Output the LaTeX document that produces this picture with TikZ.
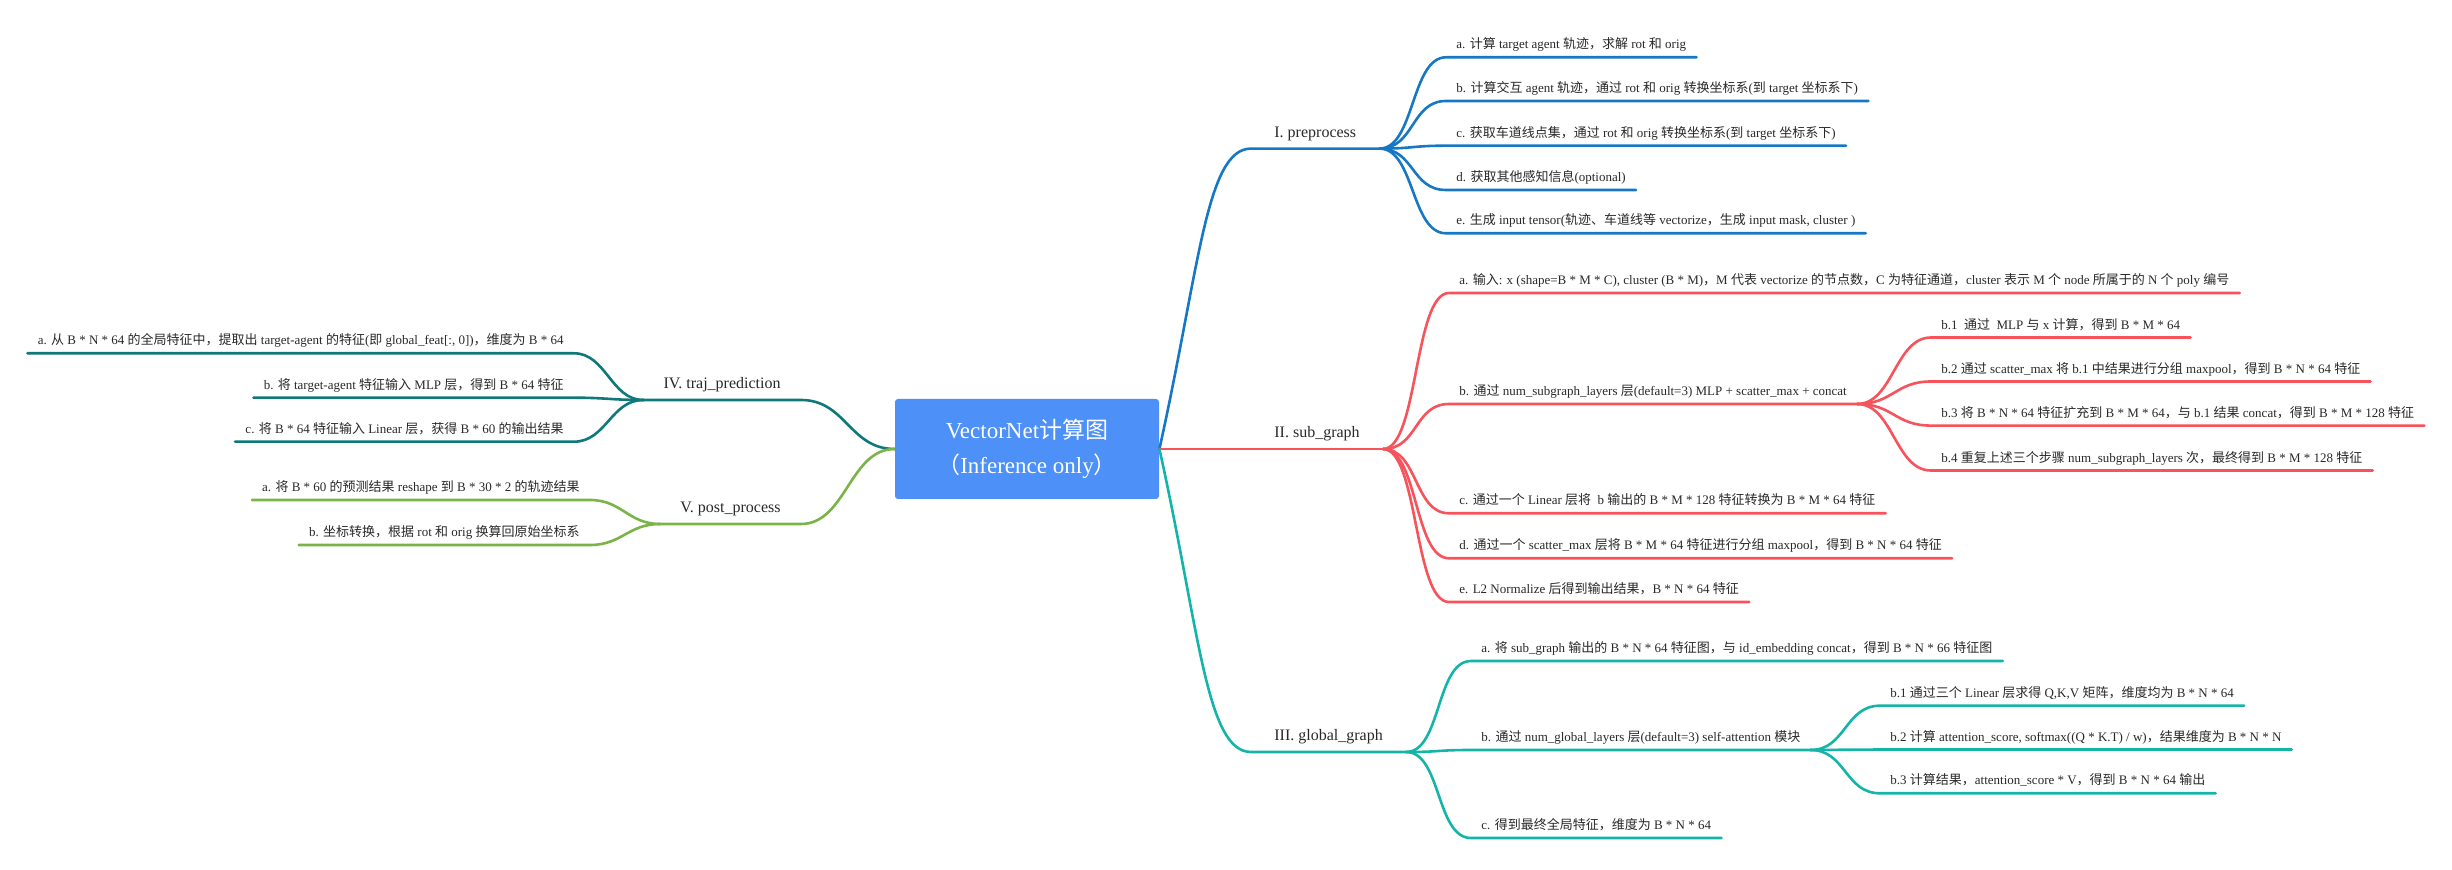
\documentclass[tikz,border=0pt]{standalone}
\usepackage{fontspec}
\setmainfont{Liberation Serif}
\newfontfamily\cjkfont{Noto Sans CJK SC}
% switch to the CJK font for Chinese characters and full-width punctuation
\XeTeXinterchartokenstate=1
\newXeTeXintercharclass\CJKcls
\newcount\cjkc
\def\setcjkrange#1#2{\cjkc=#1\relax
  \loop\XeTeXcharclass\cjkc=\CJKcls
  \ifnum\cjkc<#2\relax\advance\cjkc by 1 \repeat}
\setcjkrange{"3000}{"303F}
\setcjkrange{"4E00}{"9FFF}
\setcjkrange{"FF00}{"FFEF}
\XeTeXinterchartoks 0 \CJKcls={\begingroup\cjkfont}
\XeTeXinterchartoks 4095 \CJKcls={\begingroup\cjkfont}
\XeTeXinterchartoks \CJKcls 0={\endgroup}
\XeTeXinterchartoks \CJKcls 4095={\endgroup}
\definecolor{rootblue}{RGB}{76,144,248}
\definecolor{preblue}{RGB}{22,120,196}
\definecolor{subred}{RGB}{248,82,90}
\definecolor{gloteal}{RGB}{20,180,168}
\definecolor{trajteal}{RGB}{14,120,122}
\definecolor{postgreen}{RGB}{122,180,72}
\definecolor{txt}{RGB}{40,40,40}
\begin{document}
\begin{tikzpicture}[x=0.5pt, y=-0.5pt,
    root/.style={fill=rootblue, rounded corners=1.5pt, text=white, align=center,
      minimum width=132pt, minimum height=50pt, inner sep=0pt,
      font=\fontsize{11.5}{17.5}\selectfont},
    branch/.style={anchor=south west, inner xsep=11.5pt, inner ysep=0pt,
      text depth=5.5pt, text=txt, font=\fontsize{8}{10}\selectfont},
    branchl/.style={branch, anchor=south east, inner xsep=10pt},
    leaf/.style={anchor=south west, inner xsep=5pt, inner ysep=0pt,
      text depth=4pt, text=txt, font=\fontsize{6.5}{8}\selectfont},
    leafl/.style={leaf, anchor=south east},
    link/.style={line width=1.3pt, line cap=round}]
  \useasboundingbox (0,0) rectangle (2452,870);

  \node[root] (root) at (1027,449) {VectorNet计算图\\（Inference only）};

  % main branches
  \node[branch] (pre) at (1251,148.6) {I. preprocess};
  \node[branch] (sub) at (1251,449) {II. sub\_graph};
  \node[branch] (glo) at (1251,752) {III. global\_graph};
  \node[branchl] (traj) at (801,400) {IV. traj\_prediction};
  \node[branchl] (post) at (801,524) {V. post\_process};

  \draw[link, preblue] (root.east) .. controls +(40,-180) and +(-45,0) .. (pre.south west) -- (pre.south east);
  \draw[link, subred] (root.east) -- (sub.south east);
  \draw[link, gloteal] (root.east) .. controls +(40,180) and +(-45,0) .. (glo.south west) -- (glo.south east);
  \draw[link, trajteal] (root.west) .. controls +(-45,0) and +(45,0) .. (traj.south east) -- (traj.south west);
  \draw[link, postgreen] (root.west) .. controls +(-45,0) and +(45,0) .. (post.south east) -- (post.south west);

  % I. preprocess
  \foreach \n/\y/\t in {
      pa/57.3/{a. 计算 target agent 轨迹，求解 rot 和 orig},
      pb/101/{b. 计算交互 agent 轨迹，通过 rot 和 orig 转换坐标系(到 target 坐标系下)},
      pc/145.7/{c. 获取车道线点集，通过 rot 和 orig 转换坐标系(到 target 坐标系下)},
      pd/190/{d. 获取其他感知信息(optional)},
      pe/233.3/{e. 生成 input tensor(轨迹、车道线等 vectorize，生成 input mask, cluster )}} {
    \node[leaf] (\n) at (1446,\y) {\t};
    \draw[link, preblue] (pre.south east) .. controls +(35,0) and +(-35,0) .. (\n.south west) -- (\n.south east);
  }

  % II. sub_graph
  \foreach \n/\y/\t in {
      sa/293/{a. 输入: x (shape=B * M * C), cluster (B * M)，M 代表 vectorize 的节点数，C 为特征通道，cluster 表示 M 个 node 所属于的 N 个 poly 编号},
      sb/404/{b. 通过 num\_subgraph\_layers 层(default=3) MLP + scatter\_max + concat},
      sc/513.3/{c. 通过一个 Linear 层将 \ b 输出的 B * M * 128 特征转换为 B * M * 64 特征},
      sd/558.3/{d. 通过一个 scatter\_max 层将 B * M * 64 特征进行分组 maxpool，得到 B * N * 64 特征},
      se/602/{e. L2 Normalize 后得到输出结果，B * N * 64 特征}} {
    \node[leaf] (\n) at (1449,\y) {\t};
    \draw[link, subred] (sub.south east) .. controls +(35,0) and +(-35,0) .. (\n.south west) -- (\n.south east);
  }
  \foreach \n/\y/\t in {
      sb1/337.5/{b.1 \ 通过 \ MLP 与 x 计算，得到 B * M * 64},
      sb2/381.5/{b.2 通过 scatter\_max 将 b.1 中结果进行分组 maxpool，得到 B * N * 64 特征},
      sb3/425.6/{b.3 将 B * N * 64 特征扩充到 B * M * 64，与 b.1 结果 concat，得到 B * M * 128 特征},
      sb4/470.5/{b.4 重复上述三个步骤 num\_subgraph\_layers 次，最终得到 B * M * 128 特征}} {
    \node[leaf] (\n) at (1931,\y) {\t};
    \draw[link, subred] (sb.south east) .. controls +(36,0) and +(-36,0) .. (\n.south west) -- (\n.south east);
  }

  % III. global_graph
  \foreach \n/\y/\t in {
      ga/661/{a. 将 sub\_graph 输出的 B * N * 64 特征图，与 id\_embedding concat，得到 B * N * 66 特征图},
      gb/750/{b. 通过 num\_global\_layers 层(default=3) self-attention 模块},
      gc/838/{c. 得到最终全局特征，维度为 B * N * 64}} {
    \node[leaf] (\n) at (1471,\y) {\t};
    \draw[link, gloteal] (glo.south east) .. controls +(35,0) and +(-35,0) .. (\n.south west) -- (\n.south east);
  }
  \foreach \n/\y/\t in {
      gb1/705.7/{b.1 通过三个 Linear 层求得 Q,K,V 矩阵，维度均为 B * N * 64},
      gb2/749.5/{b.2 计算 attention\_score, softmax((Q * K.T) / w)，结果维度为 B * N * N},
      gb3/793.3/{b.3 计算结果，attention\_score * V，得到 B * N * 64 输出}} {
    \node[leaf] (\n) at (1880,\y) {\t};
    \draw[link, gloteal] (gb.south east) .. controls +(35,0) and +(-35,0) .. (\n.south west) -- (\n.south east);
  }

  % IV. traj_prediction
  \foreach \n/\y/\t in {
      ta/353.3/{a. 从 B * N * 64 的全局特征中，提取出 target-agent 的特征(即 global\_feat[:, 0])，维度为 B * 64},
      tb/397.7/{b. 将 target-agent 特征输入 MLP 层，得到 B * 64 特征},
      tc/441.7/{c. 将 B * 64 特征输入 Linear 层，获得 B * 60 的输出结果}} {
    \node[leafl] (\n) at (574,\y) {\t};
    \draw[link, trajteal] (traj.south west) .. controls +(-32,0) and +(32,0) .. (\n.south east) -- (\n.south west);
  }

  % V. post_process
  \foreach \n/\y/\t in {
      qa/500/{a. 将 B * 60 的预测结果 reshape 到 B * 30 * 2 的轨迹结果},
      qb/545/{b. 坐标转换，根据 rot 和 orig 换算回原始坐标系}} {
    \node[leafl] (\n) at (590,\y) {\t};
    \draw[link, postgreen] (post.south west) .. controls +(-32,0) and +(32,0) .. (\n.south east) -- (\n.south west);
  }
\end{tikzpicture}
\end{document}
